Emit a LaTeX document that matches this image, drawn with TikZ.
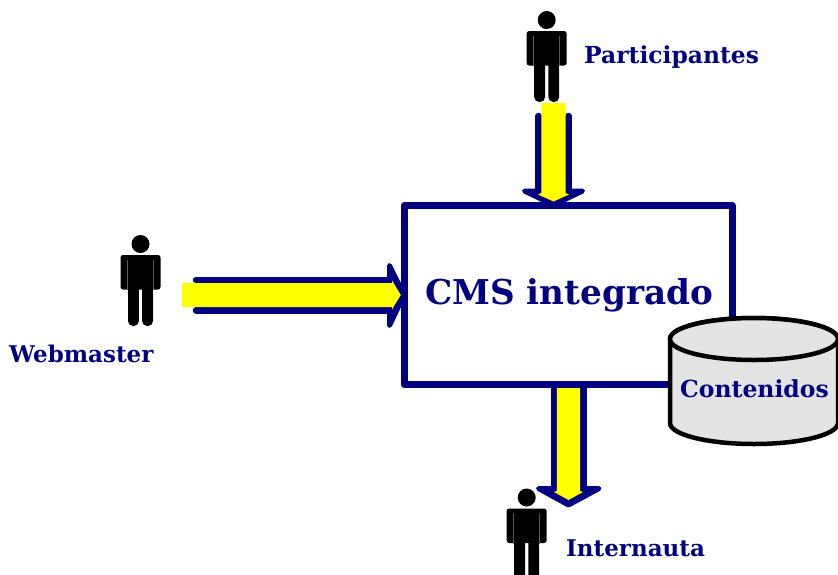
\documentclass[tikz,border=0pt]{standalone}
\usepackage{fontspec}
\setmainfont{DejaVu Serif}[BoldFont={DejaVu Serif Bold}]
\definecolor{navy}{RGB}{0,0,128}
\definecolor{arrowyellow}{RGB}{255,255,0}
\definecolor{cylfill}{RGB}{228,228,228}
\tikzset{
  label text/.style={text=navy,font=\bfseries,anchor=base west,inner sep=0pt},
  stem/.style={draw=navy,line width=6.5pt,line cap=round},
  headtip/.style={fill=navy,draw=navy,line width=5pt,line join=round},
  flow/.style={fill=arrowyellow,draw=none},
  person/.pic={
    \fill[black] (0,0) circle (9);
    \fill[black,rounded corners=2.5pt] (-20,11) rectangle (20,45.5);
    \fill[black,rounded corners=5pt] (-12.5,30) rectangle (-1.6,82);
    \fill[black,rounded corners=5pt] (12.5,30) rectangle (1.6,82);
    \fill[black] (-12.5,14) rectangle (12.5,44);
    \fill[white!35!black] (-13.3,16) rectangle (-12.7,46);
    \fill[white!35!black] (13.3,16) rectangle (12.7,46);
    \fill[white] (-20.5,46) rectangle (-12.5,50);
    \fill[white] (20.5,46) rectangle (12.5,50);
  }
}
\begin{document}
\begin{tikzpicture}[x=1pt,y=-1pt]
\useasboundingbox (0,0) rectangle (838,574);
\clip (0,0) rectangle (838,574);
\fill[white] (0,0) rectangle (838,574);
% box
\node[draw=navy,line width=7pt,line join=round,outer sep=0pt,minimum width=328pt,minimum height=179pt,inner sep=0pt,anchor=north west] (cms) at (404,205.5) {};
\node[label text,font=\bfseries\fontsize{34.2}{36}\selectfont] (cmstext) at (425,304.5) {CMS integrado};
% persons
\coordinate (pp) at (546.7,20);
\coordinate (pw) at (140.5,244);
\coordinate (pi) at (526.7,497.5);
% top arrow
\coordinate (ats) at (553.5,103);
\coordinate (ate) at (553.5,205);
\draw[stem] (538.5,116) -- (538.5,190);
\draw[stem] (568.7,116) -- (568.7,190);
\filldraw[headtip] (524.5,191) -- (582.5,191) -- (ate) -- cycle;
\fill[flow] (541.3,103) -- (565.5,103) -- (565.5,193) -- (569,194.5) -- (553.5,201.5) -- (538,194.5) -- (541.3,193) -- cycle;
% left arrow
\coordinate (als) at (182,295);
\coordinate (ale) at (404,295);
\draw[stem] (196,280) -- (390,280);
\draw[stem] (196,310.3) -- (390,310.3);
\filldraw[headtip] (389.5,265.5) -- (389.5,325.5) -- (ale) -- cycle;
\fill[flow] (als |- 0,283) -- (392,283) -- (392,280.5) -- (400.8,295) -- (392,309.5) -- (392,307) -- (als |- 0,307) -- cycle;
% bottom arrow
\coordinate (abs) at (568.5,388);
\coordinate (abe) at (568.5,505);
\draw[stem,line cap=butt,line width=7pt] (554,385) -- (554,490);
\draw[stem,line cap=butt,line width=7pt] (583.3,385) -- (583.3,490);
\filldraw[headtip] (538.5,488.5) -- (599,488.5) -- (abe) -- cycle;
\fill[flow] (556.8,388) -- (580,388) -- (580,491) -- (583,492) -- (568.5,500) -- (554,492) -- (556.8,491) -- cycle;
% persons on top
\pic at (pp) {person};
\pic at (pw) {person};
\pic at (pi) {person};
% cylinder
\coordinate (cyl) at (754,339);
\draw[fill=cylfill,draw=black,line width=4.5pt] (670,339) arc[start angle=180,end angle=360,x radius=84,y radius=21] -- (838,423) arc[start angle=0,end angle=180,x radius=84,y radius=21] -- cycle;
\draw[fill=cylfill,draw=black,line width=4.5pt] (cyl) ellipse[x radius=84,y radius=21];
% labels
\node[label text,font=\bfseries\fontsize{23.5}{25}\selectfont] (contenidos) at (680,397) {Contenidos};
\node[label text,font=\bfseries\fontsize{23.4}{25}\selectfont] (participantes) at (584,63) {Participantes};
\node[label text,font=\bfseries\fontsize{23}{25}\selectfont] (webmaster) at (9,362) {Webmaster};
\node[label text,font=\bfseries\fontsize{23}{25}\selectfont] (internauta) at (566,556) {Internauta};
\end{tikzpicture}
\end{document}
